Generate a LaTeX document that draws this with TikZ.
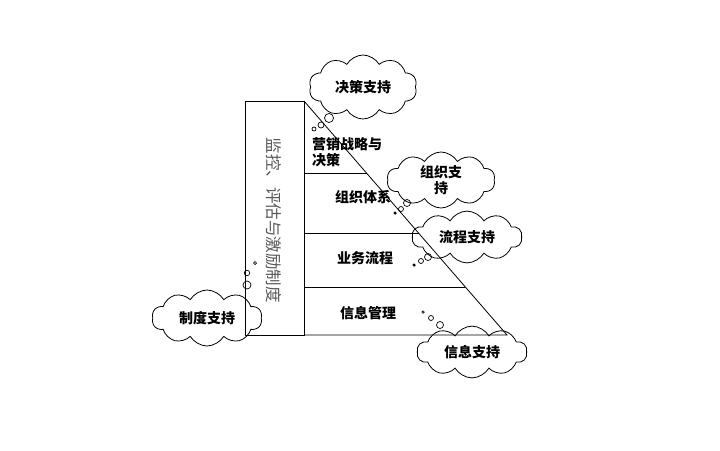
\documentclass[tikz,border=0pt]{standalone}
\usepackage{fontspec}
\newfontfamily\cjk{Noto Sans CJK SC}
\usetikzlibrary{shapes.symbols}
\begin{document}
\begin{tikzpicture}[x=1pt,y=-1pt,
  frame/.style={line width=0.8pt},
  lbl/.style={font=\cjk\bfseries\fontsize{14}{16.5}\selectfont, inner sep=0pt},
  thought/.style={cloud, cloud puffs=10, cloud puff arc=120, aspect=2, draw, line width=0.8pt,
     font=\cjk\bfseries\fontsize{14}{16.5}\selectfont, align=center, inner sep=0pt},
  bub/.style={circle, draw, line width=0.7pt, inner sep=0pt}]
\useasboundingbox (0,0) rectangle (720,450);
% frame
\coordinate (rtl) at (245,101);
\coordinate (rtr) at (304,101);
\coordinate (rbl) at (245,335);
\coordinate (rbr) at (304,335);
\coordinate (tip) at (507,335);
\draw[frame] (rtl) -- (rtr) -- (rbr) -- (rbl) -- cycle;
\draw[frame] (rtr) -- (tip) -- (rbr);
\coordinate (h1a) at (304,173); \coordinate (h1b) at (366.5,173);
\coordinate (h2a) at (304,233); \coordinate (h2b) at (418.5,233);
\coordinate (h3a) at (304,287); \coordinate (h3b) at (465.4,287);
\draw[frame] (h1a) -- (h1b);
\draw[frame] (h2a) -- (h2b);
\draw[frame] (h3a) -- (h3b);
% texts
\node[font=\cjk\fontsize{16.5}{18}\selectfont, text=black!65, rotate=-90, inner sep=0pt] (side) at (274,220) {监控、评估与激励制度};
\node[lbl, align=left, anchor=north west] (l1) at (312,137) {营销战略与\\决策};
\node[lbl] (l2) at (363,197) {组织体系};
\node[lbl] (l3) at (365,258) {业务流程};
\node[lbl] (l4) at (368,313) {信息管理};
% clouds
\node[thought, minimum width=108pt, minimum height=64pt] (c1) at (363,87) {决策支持};
\node[thought, minimum width=108pt, minimum height=56pt] (c2) at (441,180) {组织支\\持};
\node[thought, minimum width=110pt, minimum height=46pt] (c3) at (467,237) {流程支持};
\node[thought, minimum width=110pt, minimum height=50pt] (c4) at (472,352) {信息支持};
\node[thought, minimum width=110pt, minimum height=56pt] (c5) at (207,318) {制度支持};
% bubbles
\node[bub, minimum size=9pt] (b11) at (329,118) {};
\node[bub, minimum size=6pt] (b12) at (321,125) {};
\node[bub, minimum size=4pt] (b13) at (314,129) {};
\node[bub, minimum size=7pt] (b21) at (407,203) {};
\node[bub, minimum size=5pt] (b22) at (401,209) {};
\node[bub, minimum size=2.5pt, fill=black] (b23) at (395,213) {};
\node[bub, minimum size=7pt] (b31) at (428,257) {};
\node[bub, minimum size=5pt] (b32) at (421,261) {};
\node[bub, minimum size=2.5pt, fill=black] (b33) at (414,265) {};
\node[bub, minimum size=7pt] (b41) at (440,325) {};
\node[bub, minimum size=5pt] (b42) at (431,318) {};
\node[bub, minimum size=2.5pt] (b43) at (423,312) {};
\node[bub, minimum size=8pt] (b51) at (247,285) {};
\node[bub, minimum size=5.5pt] (b52) at (247,273) {};
\node[bub, minimum size=3pt] (b53) at (255,263) {};
\end{tikzpicture}
\end{document}
